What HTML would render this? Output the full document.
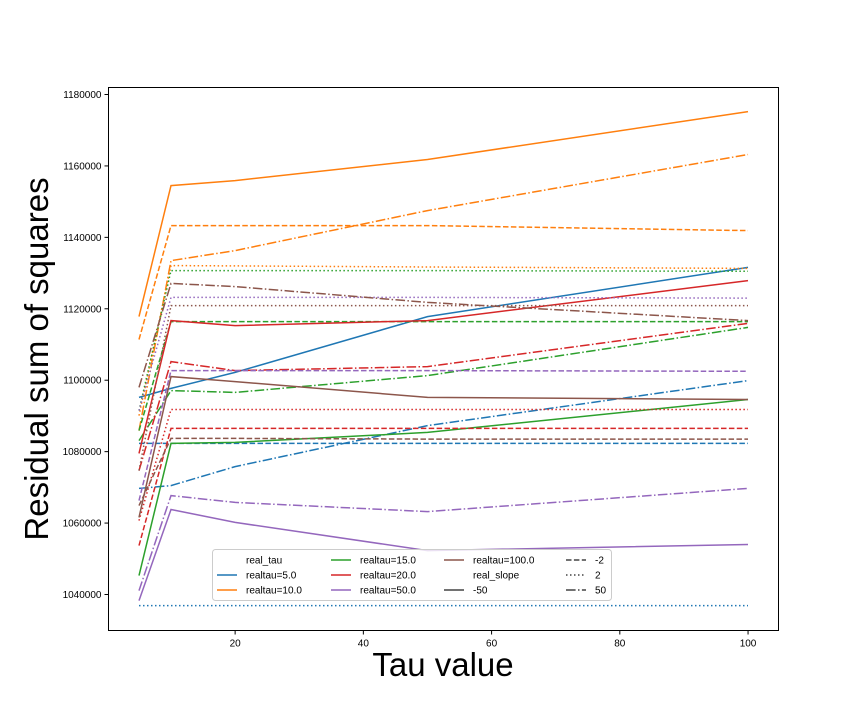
<!DOCTYPE html>
<html><head><meta charset="utf-8"><style>
body{margin:0;background:#fff;}
svg text{font-family:"Liberation Sans","DejaVu Sans",sans-serif;}
</style></head><body>
<svg id="chart" width="864" height="720" xmlns="http://www.w3.org/2000/svg">
<rect x="0" y="0" width="864" height="720" fill="#fff"/>
<g id="plot"></g>
<rect x="108.5" y="87.5" width="670" height="543" fill="none" stroke="#000" stroke-width="1"/>
<g id="axes"></g>
<text x="443" y="676" font-size="33" text-anchor="middle">Tau value</text>
<text transform="translate(48,359) rotate(-90)" font-size="33" text-anchor="middle">Residual sum of squares</text>
<g id="legend"></g>
</svg>
<script>
const xValues = [5, 10, 20, 50, 100];
const xTicks = [20, 40, 60, 80, 100];
const yTicks = [1040000, 1060000, 1080000, 1100000, 1120000, 1140000, 1160000, 1180000];
const tauNames = ["realtau=5.0","realtau=10.0","realtau=15.0","realtau=20.0","realtau=50.0","realtau=100.0"];
const slopeNames = ["-50","-2","2","50"];
const tau5 = [[1095.2,1097.7,1102.2,1117.8,1131.6],[1082.3,1082.3,1082.3,1082.3,1082.3],[1036.9,1036.9,1036.9,1036.9,1036.9],[1069.7,1070.5,1075.8,1087.3,1099.9]];
const tau10 = [[1117.8,1154.5,1155.9,1161.8,1175.2],[1111.4,1143.3,1143.3,1143.3,1141.9],[1090.1,1132.1,1132.0,1131.7,1131.3],[1085.9,1133.5,1136.3,1147.5,1163.2]];
const tau15 = [[1045.3,1082.3,1082.6,1085.4,1094.6],[1085.9,1116.4,1116.4,1116.4,1116.4],[1091.5,1130.7,1130.7,1130.7,1130.5],[1083.1,1097.1,1096.6,1101.3,1114.8]];
const tau20 = [[1079.5,1116.7,1115.3,1116.7,1127.9],[1053.7,1086.5,1086.5,1086.5,1086.5],[1060.7,1091.8,1091.8,1091.8,1091.8],[1074.7,1105.2,1102.7,1103.8,1115.9]];
const tau50 = [[1038.3,1063.8,1060.2,1052.3,1054.0],[1066.3,1102.7,1102.7,1102.7,1102.5],[1091.5,1123.2,1123.2,1123.2,1123.0],[1041.1,1067.7,1065.8,1063.2,1069.7]];
const tau100 = [[1061.6,1101.0,1099.6,1095.2,1094.6],[1064.9,1083.7,1083.7,1083.5,1083.5],[1074.7,1120.9,1120.9,1120.9,1120.9],[1098.0,1127.1,1126.2,1121.8,1116.7]];
const allTau = [tau5,tau10,tau15,tau20,tau50,tau100];
const colors = ["#1f77b4","#ff7f0e","#2ca02c","#d62728","#9467bd","#8c564b"];
const dashes = ["", "5.5,2.4", "1.5,2.5", "9.6,2.4,1.5,2.4"];
const NS="http://www.w3.org/2000/svg";
const X0=108.5,X1=778.5,Y0=630.5,Y1=87.5;
const xmin=0.25,xmax=104.75,ymin=1029920,ymax=1181960;
function sx(v){return X0+(v-xmin)/(xmax-xmin)*(X1-X0);}
function sy(v){return Y0-(v-ymin)/(ymax-ymin)*(Y0-Y1);}
function mk(t,a,p){const e=document.createElementNS(NS,t);for(const k in a)e.setAttribute(k,a[k]);p.appendChild(e);return e;}
const plot=document.getElementById('plot');
allTau.forEach((group,ti)=>{group.forEach((vals,si)=>{
  const d=vals.map((v,i)=>(i?'L':'M')+sx(xValues[i]).toFixed(1)+','+sy(v*1000).toFixed(1)).join(' ');
  const p=mk('path',{d:d,fill:'none',stroke:colors[ti],'stroke-width':1.5},plot);
  if(dashes[si])p.setAttribute('stroke-dasharray',dashes[si]);
  
  
});});
const axes=document.getElementById('axes');
xTicks.forEach(t=>{const x=sx(t);
  const l=mk('line',{x1:x,x2:x,y1:Y0,y2:Y0+4,stroke:'#000'},axes);
  
  
  const tx=mk('text',{x:x,y:Y0+16,'font-size':10,'text-anchor':'middle'},axes);tx.textContent=t;
  
  
});
yTicks.forEach(t=>{const y=sy(t);
  const l=mk('line',{x1:X0-4,x2:X0,y1:y,y2:y,stroke:'#000'},axes);
  
  
  const tx=mk('text',{x:X0-7,y:y+3.5,'font-size':10,'text-anchor':'end'},axes);tx.textContent=t;
  
  
});
const lg=document.getElementById('legend');
const box=mk('rect',{x:212.5,y:549.5,width:399,height:51,rx:3,fill:'#fff','fill-opacity':0.8,stroke:'#ccc'},lg);


const entries=[
 {t:"real_tau",c:null},{t:tauNames[0],c:colors[0],d:""},{t:tauNames[1],c:colors[1],d:""},
 {t:tauNames[2],c:colors[2],d:""},{t:tauNames[3],c:colors[3],d:""},{t:tauNames[4],c:colors[4],d:""},
 {t:tauNames[5],c:colors[5],d:""},{t:"real_slope",c:null},{t:slopeNames[0],c:"#444",d:dashes[0]},
 {t:slopeNames[1],c:"#444",d:dashes[1]},{t:slopeNames[2],c:"#444",d:dashes[2]},{t:slopeNames[3],c:"#444",d:dashes[3]}];
const colX=[217,331,444,566];
entries.forEach((e,i)=>{const c=Math.floor(i/3),r=i%3;const x=colX[c],y=560+r*15;
  if(e.c){const l=mk('line',{x1:x,x2:x+20,y1:y,y2:y,stroke:e.c,'stroke-width':1.5},lg);
    if(e.d)l.setAttribute('stroke-dasharray',e.d);
    
    }
  const tx=mk('text',{x:x+29,y:y+3.5,'font-size':10},lg);tx.textContent=e.t;
  
  
});
</script>
</body></html>
